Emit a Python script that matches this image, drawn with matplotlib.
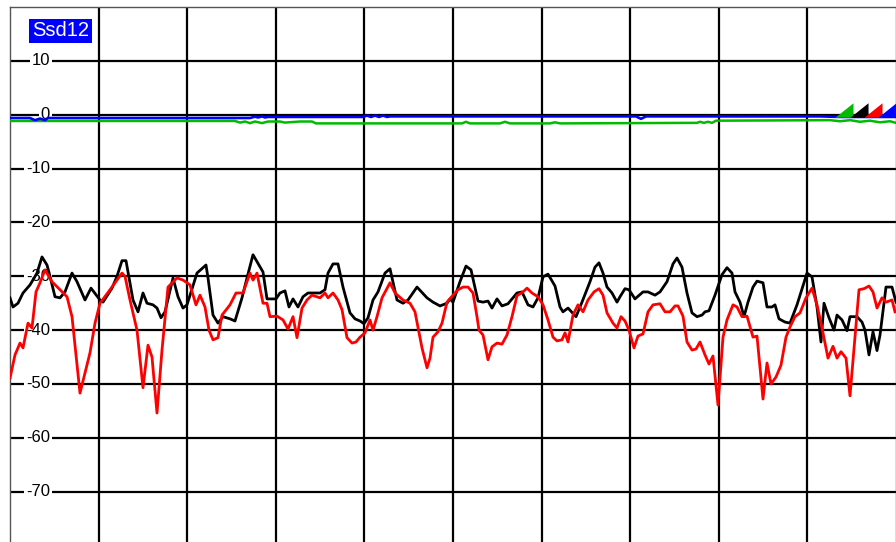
import matplotlib
matplotlib.use("Agg")
import matplotlib.pyplot as plt
from matplotlib.path import Path

plt.rcParams['font.family'] = ['Liberation Sans', 'DejaVu Sans']

# ---- data ----
title_label = "Ssd12"
y_ticks = [10, 0, -10, -20, -30, -40, -50, -60, -70]
x_span = 886.0          # 10 divisions
x_div = 88.6

red_x = [0, 5, 10, 13, 18, 22, 26, 30, 35, 42, 50, 57, 62, 70, 80, 85, 90, 100, 112, 115, 120, 127, 133, 138, 142, 147,
         152, 158, 167, 173, 180, 186, 190, 195, 199, 203, 208, 212, 220, 226, 233, 240, 243, 247, 253, 257, 260, 267,
         273, 278, 283, 287, 292, 297, 302, 310, 315, 318, 323, 328, 332, 337, 342, 346, 350, 355, 360, 363, 367, 372,
         380, 385, 393, 400, 405, 412, 417, 420, 423, 428, 432, 437, 443, 448, 453, 458, 463, 467, 469, 473, 478, 482,
         487, 492, 497, 502, 507, 513, 517, 522, 528, 533, 538, 543, 547, 552, 555, 558, 563, 568, 573, 578, 584, 589,
         593, 597, 603, 607, 611, 615, 619, 624, 628, 633, 638, 643, 650, 655, 660, 665, 668, 673, 677, 682, 686, 690,
         695, 699, 703, 708, 713, 717, 723, 727, 732, 737, 743, 747, 753, 757, 761, 766, 771, 776, 780, 785, 790, 796,
         802, 807, 812, 818, 823, 827, 831, 836, 840, 845, 849, 854, 859, 863, 867, 872, 876, 882, 885]
red_y = [-48.9, -44.6, -42.4, -43.3, -38.7, -39.6, -32.9, -31.2, -28.8, -31.0, -32.5, -33.8, -37.5, -51.7, -44.2, -38.7,
         -35.0, -32.5, -29.4, -30.0, -34.4, -40.0, -50.7, -42.8, -45.0, -55.4, -43.7, -32.0, -30.3, -30.7, -31.6, -35.3,
         -33.5, -35.7, -40.0, -41.8, -41.4, -37.2, -35.3, -33.1, -33.1, -29.4, -30.7, -29.4, -35.0, -35.0, -37.5, -37.4,
         -38.1, -39.8, -37.5, -41.4, -35.9, -34.4, -33.5, -34.0, -33.1, -34.0, -33.1, -34.4, -36.2, -41.4, -42.4, -42.2,
         -41.3, -40.5, -38.1, -40.0, -37.5, -34.0, -31.2, -33.1, -34.4, -35.0, -36.6, -43.3, -47.0, -45.2, -41.3, -40.3,
         -38.7, -34.8, -33.5, -32.5, -32.0, -32.0, -33.1, -37.5, -40.0, -40.9, -45.5, -43.1, -42.4, -42.6, -40.9, -37.5,
         -33.6, -32.9, -32.2, -33.1, -33.8, -35.3, -38.1, -41.3, -42.0, -41.8, -40.5, -42.2, -37.2, -35.3, -36.6, -34.4,
         -32.9, -32.3, -33.5, -36.8, -38.7, -39.6, -37.5, -38.3, -40.0, -43.3, -41.1, -40.7, -36.6, -35.3, -35.1, -36.6,
         -36.6, -35.5, -35.5, -37.4, -42.2, -43.7, -43.5, -42.2, -44.6, -46.3, -44.8, -53.9, -41.3, -38.1, -35.3, -35.7,
         -37.5, -37.4, -41.3, -41.1, -52.8, -46.1, -50.0, -48.7, -46.5, -41.3, -39.4, -37.5, -36.8, -34.0, -32.2, -35.3,
         -39.6, -45.2, -43.0, -45.2, -44.0, -45.2, -52.2, -41.3, -32.5, -32.3, -31.8, -32.9, -35.9, -34.0, -34.8, -34.4,
         -36.6]

black_x = [0, 3, 8, 13, 20, 27, 32, 37, 40, 45, 50, 55, 62, 67, 75, 81, 90, 93, 102, 107, 112, 116, 123, 128, 133, 137,
           143, 147, 151, 155, 163, 168, 173, 177, 187, 196, 198, 203, 208, 213, 220, 225, 232, 237, 243, 253, 257, 266,
           270, 275, 279, 283, 288, 293, 298, 310, 315, 318, 323, 328, 333, 340, 345, 350, 354, 358, 363, 368, 375, 380,
           387, 393, 398, 407, 417, 423, 430, 437, 440, 443, 450, 456, 461, 468, 473, 478, 482, 487, 492, 498, 507, 512,
           518, 523, 528, 533, 538, 545, 550, 553, 558, 566, 572, 580, 585, 589, 593, 597, 602, 607, 610, 615, 619, 625,
           633, 638, 645, 650, 657, 663, 667, 672, 677, 682, 687, 692, 695, 699, 705, 712, 717, 722, 725, 730, 734, 738,
           743, 747, 753, 757, 762, 765, 769, 775, 780, 787, 797, 802, 807, 811, 814, 819, 824, 827, 832, 837, 840, 847,
           852, 855, 859, 863, 867, 870, 876, 882, 886]
black_y = [-34.0, -35.7, -35.0, -33.1, -31.6, -29.4, -26.4, -27.9, -30.0, -33.8, -34.0, -32.9, -29.4, -31.0, -34.4, -32.2,
           -34.4, -34.8, -32.2, -30.0, -27.1, -27.1, -34.4, -36.6, -33.1, -35.0, -35.3, -35.9, -37.7, -36.6, -30.3, -33.8,
           -35.9, -35.3, -29.4, -27.9, -30.3, -37.2, -38.7, -37.5, -37.9, -38.3, -34.0, -30.3, -26.0, -29.2, -34.2, -34.2,
           -33.1, -32.7, -35.7, -34.2, -35.7, -33.8, -33.1, -33.1, -32.5, -29.4, -27.7, -27.7, -32.0, -36.8, -37.9, -38.3,
           -38.8, -37.7, -34.4, -32.9, -29.4, -28.6, -34.4, -35.0, -34.4, -32.0, -34.0, -34.8, -35.5, -35.0, -34.2, -34.8,
           -31.0, -28.1, -28.8, -34.6, -34.8, -34.6, -35.9, -34.2, -35.5, -35.1, -33.1, -32.9, -35.3, -35.7, -34.0, -30.1,
           -29.6, -31.8, -35.7, -36.6, -35.9, -37.5, -34.8, -31.0, -28.3, -27.5, -29.4, -32.0, -33.1, -34.8, -33.8, -32.3,
           -32.5, -34.2, -32.9, -32.9, -33.5, -32.9, -31.0, -27.7, -26.6, -28.3, -33.1, -36.8, -37.5, -37.2, -36.6, -36.4,
           -33.5, -29.7, -28.4, -29.4, -32.9, -34.8, -37.5, -34.8, -32.0, -30.9, -31.2, -35.7, -35.7, -35.3, -37.9, -38.5,
           -38.7, -35.3, -29.4, -30.1, -35.7, -42.2, -35.0, -37.7, -40.0, -37.2, -38.1, -40.1, -37.5, -37.5, -38.5, -40.0,
           -44.6, -40.3, -43.8, -40.9, -32.0, -32.0, -34.8]

blue_x = [0, 20, 25, 30, 35, 38, 240, 245, 248, 252, 255, 258, 290, 353, 357, 361, 365, 369, 373, 377, 380, 626, 631, 636,
          810, 830, 886]
blue_y = [-0.6, -0.6, -1.0, -0.7, -1.0, -0.6, -0.6, -0.35, -0.5, -0.3, -0.5, -0.4, -0.4, -0.4, -0.15, -0.4, -0.15,
          -0.4, -0.15, -0.4, -0.3, -0.3, -0.75, -0.3, -0.3, -0.4, -0.4]

green_x = [0, 225, 230, 235, 240, 245, 252, 258, 270, 275, 290, 302, 306, 452, 456, 460, 490, 495, 500, 540, 545, 550,
           687, 690, 694, 698, 702, 706, 820, 830, 840, 850, 860, 870, 880, 886]
green_y = [-1.15, -1.15, -1.45, -1.25, -1.55, -1.25, -1.55, -1.25, -1.25, -1.45, -1.25, -1.25, -1.6, -1.6, -1.3, -1.6,
           -1.6, -1.3, -1.6, -1.6, -1.4, -1.6, -1.5, -1.3, -1.5, -1.3, -1.5, -1.1, -1.0, -1.2, -1.0, -1.3, -1.1, -1.4,
           -1.2, -1.5]

marker_x = [834, 849, 863, 877]
marker_y = [0.9, 0.9, 0.9, 0.9]
marker_colors = ['#00bb00', '#000000', '#ff0000', '#0000ff']

# ---- figure ----
W, H = 896, 542
fig = plt.figure(figsize=(W / 100, H / 100), dpi=100)
fig.patch.set_facecolor('white')
ax = fig.add_axes([10 / W, (542 - 545.5) / H, 886 / W, (545.5 - 7.1) / H])
ax.set_xlim(0, x_span)
ax.set_ylim(-80, 20)

ax.set_yticks(y_ticks)
ax.set_xticks([x_div * k for k in range(1, 10)])
ax.grid(True, color='black', linewidth=1.6, zorder=1)
ax.set_axisbelow(True)
ax.tick_params(length=0, labelleft=False, labelbottom=False)
for s in ax.spines.values():
    s.set_color('#555555')
    s.set_linewidth(1.0)
ax.spines['bottom'].set_visible(False)

for v in y_ticks:
    ax.text(40, v, str(v), ha='right', va='center', fontsize=12, color='black', zorder=2,
            bbox=dict(boxstyle='square,pad=0.12', fc='white', ec='none'))

ax.plot(green_x, green_y, color='#00bb00', lw=1.8, zorder=3)
ax.plot(blue_x, blue_y, color='#0000ff', lw=1.9, zorder=3.1)
ax.plot(black_x, black_y, color='black', lw=2.0, zorder=3.2)
ax.plot(red_x, red_y, color='#ff0000', lw=2.0, zorder=3.3)

tri = Path([(-0.5, -0.4), (0.5, 0.4), (0.5, -0.4), (-0.5, -0.4)],
           [Path.MOVETO, Path.LINETO, Path.LINETO, Path.CLOSEPOLY])
for mx, my, mc in zip(marker_x, marker_y, marker_colors):
    ax.plot([mx], [my], marker=tri, markersize=13, color=mc, markeredgewidth=0, zorder=4, linestyle='none')

fig.text(32 / W, 1 - 31 / H, title_label, ha='left', va='center', fontsize=14.5, color='white',
         bbox=dict(boxstyle='square,pad=0.14', fc='#0000ff', ec='none'))

fig.savefig('out.png', dpi=100, facecolor='white')
